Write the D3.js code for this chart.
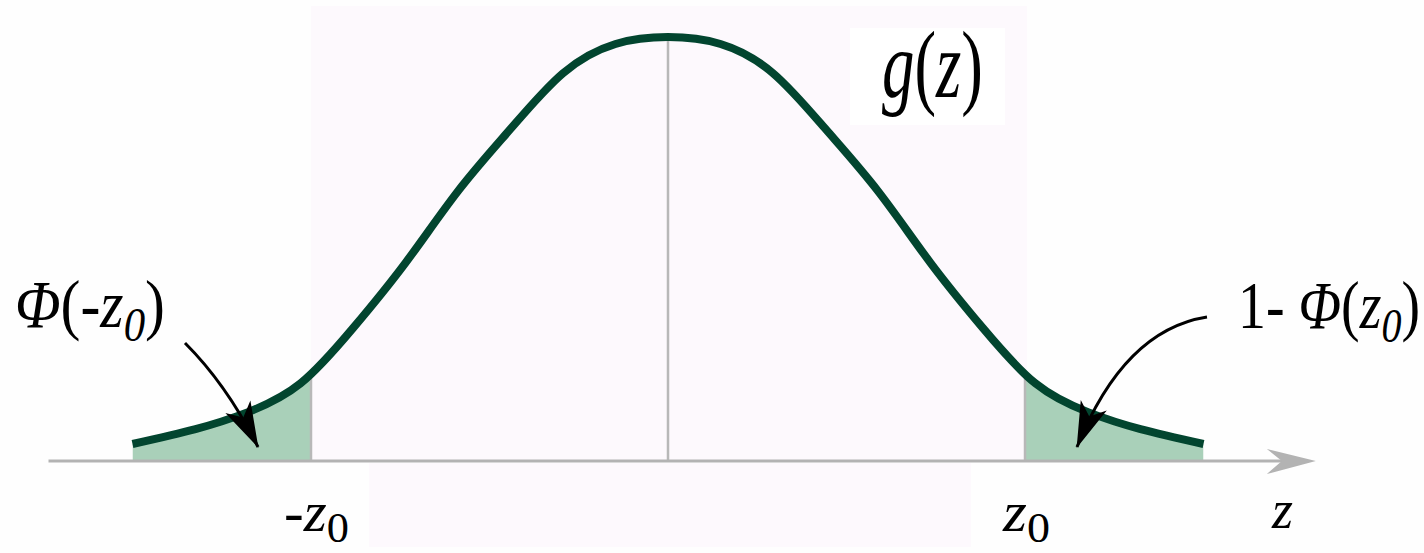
<!DOCTYPE html>
<html>
<head>
<meta charset="utf-8">
<script src="https://cdn.jsdelivr.net/npm/d3@7"></script>
<style>
  html, body { margin: 0; padding: 0; background: #ffffff; }
  svg { display: block; }
  text { font-family: "Liberation Serif", "Times New Roman", serif; fill: #000; }
</style>
</head>
<body>
<svg id="chart" width="1424" height="553"></svg>
<script>
// Density curve g(z): z positions and heights
const zValues = [-2.55, -2.25, -2.0, -1.75, -1.5, -1.25, -1.0, -0.75, -0.5, -0.25, 0,
                  0.25, 0.5, 0.75, 1.0, 1.25, 1.5, 1.75, 2.0, 2.25, 2.55];
const gValues = [0.016, 0.030, 0.046, 0.073, 0.125, 0.1865, 0.254, 0.3125, 0.365, 0.3925, 0.399,
                  0.3925, 0.365, 0.3125, 0.254, 0.1865, 0.125, 0.073, 0.046, 0.030, 0.016];

// Critical value marking the two tails
const z0 = 1.7;

const W = 1424, H = 553;
const svg = d3.select("#chart");

const x = d3.scaleLinear().domain([-3, 3.1]).range([38, 1319]);
const y = d3.scaleLinear().domain([0, 0.4]).range([461, 36]);

const points = zValues.map((z, i) => ({ z, g: gValues[i] }));
const zMin = d3.min(zValues), zMax = d3.max(zValues);

// faint tinted panels behind the plot
const tint = "#fdf9fd";
svg.append("rect").attr("x", 0).attr("y", 0).attr("width", W).attr("height", H).attr("fill", "#fefefe");
svg.append("rect").attr("x", x(-z0)).attr("y", 6).attr("width", x(z0) - x(-z0) + 2).attr("height", y(0) - 6).attr("fill", tint);
svg.append("rect").attr("x", 369).attr("y", y(0) + 2).attr("width", 602).attr("height", 84).attr("fill", tint);
svg.append("rect").attr("x", 850).attr("y", 28).attr("width", 155).attr("height", 97).attr("fill", "#ffffff");

const defs = svg.append("defs");
defs.append("clipPath").attr("id", "tailL").append("rect")
  .attr("x", x(zMin)).attr("y", 0).attr("width", x(-z0) - x(zMin)).attr("height", H);
defs.append("clipPath").attr("id", "tailR").append("rect")
  .attr("x", x(z0)).attr("y", 0).attr("width", x(zMax) - x(z0)).attr("height", H);

defs.append("marker")
  .attr("id", "head")
  .attr("markerUnits", "userSpaceOnUse")
  .attr("viewBox", "0 0 46 30")
  .attr("markerWidth", 46).attr("markerHeight", 30)
  .attr("refX", 45).attr("refY", 15)
  .attr("orient", "auto")
  .append("path")
  .attr("d", "M0,1 L46,15 L0,29 L12,15 Z")
  .attr("fill", "#000");

const curve = d3.curveNatural;

// shaded tail areas
const area = d3.area().x(d => x(d.z)).y0(y(0)).y1(d => y(d.g)).curve(curve);
const tails = svg.append("g");
["tailL", "tailR"].forEach(id => {
  tails.append("path")
    .datum(points)
    .attr("d", area)
    .attr("fill", "#a9d0b9")
    .attr("clip-path", `url(#${id})`);
});

const guides = svg.append("g");
const axisG = svg.append("g");

// the density curve
const curvePath = svg.append("path")
  .datum(points)
  .attr("d", d3.line().x(d => x(d.z)).y(d => y(d.g)).curve(curve))
  .attr("fill", "none")
  .attr("stroke", "#02452f")
  .attr("stroke-width", 8);

// height of the drawn curve at a given z (x is monotone along the path)
function curveYAt(z) {
  const node = curvePath.node();
  const target = x(z);
  let lo = 0, hi = node.getTotalLength();
  for (let k = 0; k < 40; k++) {
    const mid = (lo + hi) / 2;
    if (node.getPointAtLength(mid).x < target) lo = mid; else hi = mid;
  }
  return node.getPointAtLength((lo + hi) / 2).y;
}

// vertical guides at -z0, 0, z0
[-z0, 0, z0].forEach(z => {
  guides.append("line")
    .attr("x1", x(z)).attr("x2", x(z))
    .attr("y1", curveYAt(z)).attr("y2", y(0))
    .attr("stroke", "#b8b8b8").attr("stroke-width", 2.5);
});

// horizontal z axis with arrow head
const axisStart = -2.95, axisEnd = 3.085;
axisG.append("line")
  .attr("x1", x(axisStart)).attr("x2", x(axisEnd) - 20)
  .attr("y1", y(0)).attr("y2", y(0))
  .attr("stroke", "#b3b3b3").attr("stroke-width", 3);
const tip = x(axisEnd), ay = y(0);
axisG.append("path")
  .attr("d", `M${tip},${ay} L${tip - 49},${ay - 12} L${tip - 34},${ay} L${tip - 49},${ay + 13} Z`)
  .attr("fill", "#b3b3b3");

// pointer arrows from the tail labels into the shaded areas
function arrow(p0, c, p1) {
  const p = d3.path();
  p.moveTo(p0[0], p0[1]);
  p.quadraticCurveTo(c[0], c[1], p1[0], p1[1]);
  svg.append("path")
    .attr("d", p.toString())
    .attr("fill", "none")
    .attr("stroke", "#000")
    .attr("stroke-width", 3)
    .attr("marker-end", "url(#head)");
}
arrow([185, 343], [227, 385], [258, 447]);
arrow([1207, 317], [1124, 330], [1077, 447]);

// math-style labels: italic variables, smaller subscripts, squeezed to a set width
function mathText(px, py, size, parts, width) {
  const t = svg.append("text").attr("x", 0).attr("y", 0).attr("font-size", size);
  parts.forEach(pt => {
    const s = t.append("tspan").text(pt.t);
    if (pt.i) s.attr("font-style", "italic");
    if (pt.fs) s.attr("font-size", pt.fs);
    if (pt.dy) s.attr("dy", pt.dy);
  });
  const sx = width ? width / t.node().getComputedTextLength() : 1;
  t.attr("transform", `translate(${px},${py}) scale(${sx},1)`);
  return t;
}

// g(z)
mathText(882, 97, 96, [
  { t: "g", i: true }, { t: "(" }, { t: "z", i: true }, { t: ")" }
], 101);

// Φ(-z0)
mathText(15, 327, 67, [
  { t: "Φ", i: true }, { t: "(-" }, { t: "z", i: true },
  { t: "0", i: true, fs: 48, dy: 14 }, { t: ")", dy: -14 }
], 150);

// 1-Φ(z0)
mathText(1238, 328, 67, [
  { t: "1- " }, { t: "Φ", i: true }, { t: "(" }, { t: "z", i: true },
  { t: "0", i: true, fs: 48, dy: 14 }, { t: ")", dy: -14 }
], 182);

// tick labels under the axis
mathText(x(-z0) - 27, 531, 56, [
  { t: "-" }, { t: "z", i: true }, { t: "0", fs: 42, dy: 11 }
], 65);
mathText(x(z0) - 22, 531, 56, [
  { t: "z", i: true }, { t: "0", fs: 42, dy: 11 }
], 47);

// axis name
mathText(1272, 528, 54, [{ t: "z", i: true }]);
</script>
</body>
</html>
